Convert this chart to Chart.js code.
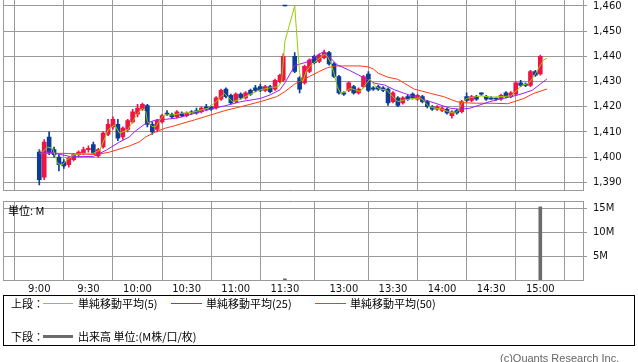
<!DOCTYPE html>
<html>
<head>
<meta charset="utf-8">
<script src="https://cdn.jsdelivr.net/npm/chart.js@4.4.0/dist/chart.umd.min.js"></script>
<style>
body { margin:0; width:638px; height:362px; background:#fff; position:relative; overflow:hidden; font-family:"Noto Sans CJK JP", sans-serif; }
#pc { position:absolute; left:0; top:0; }
#vc { position:absolute; left:0; top:195px; }
.t { position:absolute; font-size:11px; line-height:14px; color:#000; white-space:nowrap; }
.ln { position:absolute; height:0; border-top:1px solid; }
#box { position:absolute; left:3px; top:295px; width:632px; height:51px; border:1px solid #000; box-sizing:border-box; }
</style>
</head>
<body>
<canvas id="pc" width="638" height="192"></canvas>
<canvas id="vc" width="638" height="105"></canvas>
<span class="t" style="left:8px;top:203px">単位: M</span>

<div id="box"></div>
<span class="t" style="left:11px;top:296px">上段：</span>
<div class="ln" style="left:43px;top:303px;width:30px;border-color:#99cc00"></div>
<span class="t" style="left:78px;top:296px">単純移動平均(5)</span>
<div class="ln" style="left:171px;top:303px;width:31px;border-color:#9a1ff5"></div>
<span class="t" style="left:206px;top:296px">単純移動平均(25)</span>
<div class="ln" style="left:315px;top:303px;width:31px;border-color:#ff3a10"></div>
<span class="t" style="left:350px;top:296px">単純移動平均(50)</span>
<span class="t" style="left:11px;top:329px">下段：</span>
<div class="ln" style="left:43px;top:335px;width:30px;border-top:3px solid #6b6b6b"></div>
<span class="t" style="left:78px;top:329px">出来高 単位:(M株/口/枚)</span>
<span class="t" style="left:500px;top:351px;color:#666;font-family:'Liberation Sans',sans-serif">(c)Quants Research Inc.</span>

<script>
// 3-minute candles (open, high, low, close)
var candleTimes = ['9:00','9:03','9:06','9:09','9:12','9:15','9:18','9:21','9:24','9:27',
  '9:30','9:33','9:36','9:39','9:42','9:45','9:48','9:51','9:54','9:57',
  '10:00','10:03','10:06','10:09','10:12','10:15','10:18','10:21','10:24','10:27',
  '10:30','10:33','10:36','10:39','10:42','10:45','10:48','10:51','10:54','10:57',
  '11:00','11:03','11:06','11:09','11:12','11:15','11:18','11:21','11:24','11:27','11:29','11:30',
  '12:30','12:33','12:36','12:39','12:42','12:45','12:48','12:51','12:54','12:57',
  '13:00','13:03','13:06','13:09','13:12','13:15','13:18','13:21','13:24','13:27',
  '13:30','13:33','13:36','13:39','13:42','13:45','13:48','13:51','13:54','13:57',
  '14:00','14:03','14:06','14:09','14:12','14:15','14:18','14:21','14:24','14:27',
  '14:30','14:33','14:36','14:39','14:42','14:45','14:48','14:51','14:54','14:57','15:00'];
var opens = [1402,1392,1408,1403,1400,1398,1397,1399,1401,1401.5,
  1403,1405,1400.5,1404,1409,1412,1413,1408,1411,1414,
  1417,1419,1420.5,1413,1411,1414,1417.5,1417,1416,1417.5,
  1416.5,1418,1418.5,1418,1420,1420,1419.5,1423,1427,1424.5,
  1422,1425,1423.5,1426.5,1427.5,1428,1426.5,1428,1427,1430,1430.5,1460,
  1440,1431.5,1429.5,1434,1440,1438,1439.5,1441.5,1437,1432,
  1425.5,1426.5,1428,1425.5,1428,1433,1427.5,1428,1427.5,1427,
  1422,1423.5,1421.5,1424,1425,1423,1424,1422,1420,1419,
  1418.5,1419,1416.5,1418.5,1418,1424,1422.5,1424,1425.5,1424,
  1423.5,1423,1423,1425.5,1424,1425,1429.5,1429,1428.5,1434,1433];
var highs = [1403,1407,1410,1404,1401,1399,1400,1401.5,1402.5,1404,
  1404.5,1406,1403.5,1410,1415,1416,1415,1412,1415,1419,
  1421,1421.5,1421,1414,1415,1417,1418.5,1417.5,1418.5,1418,
  1418,1418.5,1419.5,1420,1421,1420.5,1424,1427,1427.5,1425,
  1425.5,1425.5,1426,1427,1428.5,1429,1428.5,1428.5,1431,1433,1441,1460,
  1441.5,1432,1436.5,1439,1440.5,1441,1442.5,1442,1437.5,1432.5,
  1426,1430,1428.5,1427.5,1432.5,1434,1428,1428.5,1428,1427.5,
  1426,1424,1424,1424.5,1425.5,1425,1424.5,1422.5,1420.5,1420.5,
  1420,1419.5,1418.5,1419,1422.5,1425.5,1424.5,1424.5,1425.5,1424.5,
  1424,1423.5,1425,1426,1426,1430,1430.5,1429.5,1434.5,1434.5,1440.5];
var lows = [1389,1391,1401,1400,1394.5,1395.5,1396,1398.5,1400.5,1401,
  1402,1401,1400,1403.5,1408.5,1411,1406.5,1407,1410,1413.5,
  1416,1418.5,1412,1409,1410,1413.5,1416.5,1415.5,1415.5,1416,
  1416,1417,1417,1417.5,1418.5,1418.5,1419,1422.5,1423.5,1421,
  1421.5,1423,1423,1424.5,1426,1426,1426,1425.5,1426.5,1429.5,1430,1460,
  1433.5,1425.5,1429,1433.5,1437,1437.5,1439,1436.5,1431.5,1425,
  1424.5,1426,1425,1425,1427.5,1426,1426.5,1426.5,1426,1420.5,
  1421.5,1420,1421,1422.5,1423,1422.5,1421.5,1419.5,1418.5,1418.5,
  1418,1417,1415.5,1417,1417.5,1422,1422,1422.5,1424.5,1422.5,
  1423,1422.5,1422.5,1423.5,1423.5,1424.5,1428,1428,1428,1432,1432.5];
var closes = [1391,1406,1402,1401,1397,1396.5,1399.5,1401,1402,1403,
  1403.5,1401.5,1403,1409.5,1413,1415,1407.5,1411.5,1414.5,1418,
  1419.5,1421,1413,1410,1414.5,1416.5,1417,1416,1418,1416.5,
  1417.5,1417.5,1417.5,1419.5,1419,1419,1423.5,1426.5,1424,1421.5,
  1425,1423.5,1425.5,1425,1426.5,1426.5,1428,1426,1430.5,1432.5,1440,1460,
  1434,1427,1436,1438.5,1437.5,1440.5,1441.5,1437,1432,1425.5,
  1425,1429.5,1425.5,1427,1432,1426.5,1427,1427,1426.5,1421.5,
  1425.5,1420.5,1423.5,1423,1423.5,1424.5,1422,1420,1419,1420,
  1419.5,1417.5,1418,1417.5,1422,1422.5,1424,1423,1425,1423,
  1423,1423,1424.5,1424,1425.5,1429.5,1428.5,1428.5,1434,1432.5,1440];

// moving averages as drawn on the chart
var ma5Times = ['9:00','9:02','9:05','9:08','9:10','9:11','9:14','9:17','9:21','9:27',
  '9:33','9:37','9:40','9:42','9:46','9:49','9:54','9:57','10:00','10:03',
  '10:05','10:06','10:09','10:11','10:13','10:16','10:21','10:27','10:33','10:39',
  '10:43','10:47','10:52','10:53','10:58','11:03','11:09','11:15','11:21','11:26',
  '11:28','11:30','12:30','12:31','12:32','12:33','12:34','12:35','12:37','12:40',
  '12:44','12:48','12:50','12:52','12:54','12:56','12:58','13:01','13:04','13:07',
  '13:10','13:13','13:16','13:19','13:22','13:26','13:30','13:33','13:37','13:43',
  '13:47','13:52','13:56','14:00','14:04','14:08','14:10','14:12','14:15','14:21',
  '14:24','14:30','14:36','14:42','14:46','14:49','14:53','14:56','14:59','15:02','15:04'];
var ma5Values = [1402.8,1402,1404,1403.5,1400.2,1397.5,1396.9,1398.9,1400.9,1401.5,
  1401.5,1402.8,1407.5,1410.8,1412.8,1409.5,1410.8,1414.1,1417.4,1419.4,
  1418,1414.1,1412.1,1412.1,1414.1,1416.7,1416.7,1417.4,1417.7,1418.7,
  1419.4,1421.4,1424.7,1425.3,1422,1423,1425,1426.7,1427.5,1428,
  1430,1446,1460,1451,1442,1433.5,1430.5,1430,1434,1436.5,
  1438.6,1440.8,1440,1437.5,1433.3,1428,1425.3,1426,1427.3,1426.7,
  1426,1428.6,1431,1428.3,1427,1426.7,1424,1422,1422.7,1423.3,
  1423.5,1420,1419.4,1419,1418,1417.4,1418.7,1421.4,1423.3,1424,
  1424.3,1423.8,1424,1424.3,1426.7,1428.6,1429.3,1432,1435.3,1438.6,1439.2];
var ma25Times = ['9:00','9:06','9:19','9:33','9:41','9:49','9:55','9:58','10:05','10:11',
  '10:17','10:23','10:29','10:35','10:41','10:47','10:53','11:03','11:15','11:21',
  '11:27','11:30','12:30','12:38','12:44','12:48','12:53','12:56','13:03','13:09',
  '13:19','13:25','13:31','13:37','13:43','13:53','14:05','14:11','14:17','14:23',
  '14:29','14:35','14:41','14:47','14:55','15:00','15:04'];
var ma25Values = [1402,1402,1400.2,1400.2,1402.8,1406,1408,1410,1413.4,1414.7,
  1415,1415.4,1416.3,1417.4,1418.4,1419.4,1420.3,1422,1423.3,1424.7,
  1426.7,1429.5,1436.3,1437.9,1440.5,1442,1438.6,1436.6,1434.6,1432.6,
  1429.3,1428.6,1426.7,1425.3,1424,1422,1419.4,1419,1419.4,1420.7,
  1422,1423,1423.8,1424.8,1426.5,1429,1431];
var ma50Times = ['9:00','9:14','9:35','9:43','9:55','10:01','10:05','10:11','10:17','10:23',
  '10:29','10:35','10:41','10:47','10:53','11:03','11:15','11:25','11:30','12:30',
  '12:39','12:45','12:50','12:55','13:10','13:15','13:18','13:21','13:27','13:33',
  '13:37','13:43','13:53','14:01','14:09','14:13','14:21','14:31','14:40','14:44',
  '14:50','14:56','15:04'];
var ma50Values = [1401.5,1401.5,1401,1402,1404.4,1406,1408,1410,1411.5,1412.5,
  1413.7,1414.8,1416,1417.2,1418.4,1420,1422,1424,1426,1429,
  1432,1434,1435.5,1436.2,1436.2,1435.8,1435,1433.3,1431.7,1430.9,
  1429.3,1427,1425.3,1424,1422,1421.6,1421.4,1421.4,1421.2,1422,
  1423.3,1425.3,1427];

// volume (millions)
var volTimes = ['11:30','15:00'];
var volValues = [0.25, 15.3];

var axisTimes = ['9:00','9:30','10:00','10:30','11:00','11:30','13:00','13:30','14:00','14:30','15:00'];
var priceTicks = [1390,1400,1410,1420,1430,1440,1450,1460];
var volTicks = [5,10,15];

// minutes from 9:00, lunch break squeezed to 6 units
function toU(t) {
  var p = t.split(':');
  var m = (+p[0] - 9) * 60 + (+p[1]);
  return m >= 210 ? m - 54 : m;
}

var UP = '#f01446', DN = '#0b3c97', GRID = '#999999';
var XMIN = -22.17, XMAX = 332.08;
var numFont = { family: 'DejaVu Sans', size: 10 };

var candleColors = closes.map(function (c, i) { return c > opens[i] ? UP : DN; });
function series(times, vals) {
  return times.map(function (t, i) { return { x: toU(t), y: vals[i] }; });
}
function noPad(s) { s.paddingTop = 0; s.paddingBottom = 0; s.paddingLeft = 0; s.paddingRight = 0; }
function xTicks(s) { s.ticks = axisTimes.map(function (t) { return { value: toU(t) }; }); }
function xLabel(v) {
  for (var i = 0; i < axisTimes.length; i++) if (toU(axisTimes[i]) === v) return axisTimes[i];
  return '';
}
var dummyLeft = { position: 'left', grid: { display: false }, ticks: { display: false },
  border: { display: true, color: GRID }, afterFit: function (s) { s.width = 0; noPad(s); } };

new Chart(document.getElementById('pc'), {
  type: 'bar',
  data: {
    datasets: [
      { type: 'line', data: series(ma5Times, ma5Values), borderColor: '#99cc00', borderWidth: 1, pointRadius: 0, order: 0 },
      { type: 'line', data: series(ma25Times, ma25Values), borderColor: '#9a1ff5', borderWidth: 1, pointRadius: 0, order: 0 },
      { type: 'line', data: series(ma50Times, ma50Values), borderColor: '#ff3a10', borderWidth: 1, pointRadius: 0, order: 0 },
      { data: candleTimes.map(function (t, i) { return { x: toU(t), y: [lows[i], highs[i]] }; }),
        backgroundColor: candleColors, barThickness: 1, grouped: false, order: 2 },
      { data: candleTimes.map(function (t, i) { return { x: toU(t), y: [opens[i], closes[i]] }; }),
        backgroundColor: candleColors, barThickness: 4, minBarLength: 1, grouped: false, order: 1 }
    ]
  },
  options: {
    responsive: false, animation: false,
    layout: { padding: { left: 3, right: 0, top: 0, bottom: 1.5 } },
    plugins: { legend: { display: false }, tooltip: { enabled: false } },
    scales: {
      x: { type: 'linear', min: XMIN, max: XMAX, offset: false,
        grid: { color: GRID, drawTicks: false }, border: { color: GRID },
        ticks: { display: false }, afterBuildTicks: xTicks,
        afterFit: function (s) { s.height = 0; noPad(s); } },
      y: { position: 'right', min: 1386.74, max: 1462.38,
        grid: { color: GRID, tickLength: 4 }, border: { color: GRID },
        afterBuildTicks: function (s) { s.ticks = priceTicks.map(function (v) { return { value: v }; }); },
        ticks: { font: numFont, color: '#111', padding: 6,
          callback: function (v) { return v.toLocaleString('en-US'); } },
        afterFit: function (s) { s.width = 55; noPad(s); } },
      yl: dummyLeft
    }
  }
});

new Chart(document.getElementById('vc'), {
  type: 'bar',
  data: {
    datasets: [
      { data: series(volTimes, volValues), backgroundColor: '#6b6b6b', barThickness: 3 }
    ]
  },
  options: {
    responsive: false, animation: false,
    layout: { padding: { left: 3, right: 0, top: 6, bottom: 0 } },
    plugins: { legend: { display: false }, tooltip: { enabled: false } },
    scales: {
      x: { type: 'linear', min: XMIN, max: XMAX, offset: false,
        grid: { color: GRID, drawTicks: false }, border: { color: GRID },
        afterBuildTicks: xTicks,
        ticks: { font: numFont, color: '#111', padding: 3, autoSkip: false, maxRotation: 0,
          callback: xLabel },
        afterFit: function (s) { s.height = 20; noPad(s); } },
      xt: { position: 'top', grid: { display: false }, ticks: { display: false },
        border: { display: true, color: GRID }, afterFit: function (s) { s.height = 0; noPad(s); } },
      y: { position: 'right', min: 0, max: 16.53,
        grid: { color: GRID, tickLength: 4 }, border: { color: GRID },
        afterBuildTicks: function (s) { s.ticks = volTicks.map(function (v) { return { value: v }; }); },
        ticks: { font: numFont, color: '#111', padding: 6,
          callback: function (v) { return v + 'M'; } },
        afterFit: function (s) { s.width = 55; noPad(s); } },
      yl: dummyLeft
    }
  }
});
</script>
</body>
</html>
